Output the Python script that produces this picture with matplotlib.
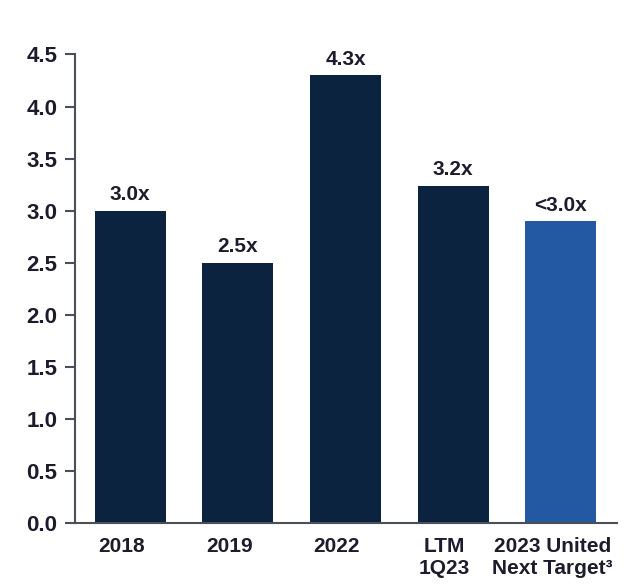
import matplotlib
matplotlib.use("Agg")
import matplotlib.pyplot as plt
import numpy as np

categories = ["2018", "2019", "2022", "LTM\n1Q23", "2023 United\nNext Target³"]
leverage = [3.0, 2.5, 4.3, 3.24, 2.9]
value_labels = ["3.0x", "2.5x", "4.3x", "3.2x", "<3.0x"]
bar_colors = ["#0c2340", "#0c2340", "#0c2340", "#0c2340", "#2358a2"]
yticks = [0.0, 0.5, 1.0, 1.5, 2.0, 2.5, 3.0, 3.5, 4.0, 4.5]

plt.rcParams["font.family"] = ["Liberation Sans", "DejaVu Sans"]
plt.rcParams["font.weight"] = "bold"

fig = plt.figure(figsize=(6.32, 5.86), dpi=100)
ax = fig.add_axes([0.119, 0.108, 0.857, 0.799])

x = np.arange(len(categories))
bars = ax.bar(x, leverage, width=0.66, color=bar_colors)

for b, lab in zip(bars, value_labels):
    ax.text(b.get_x() + b.get_width() / 2, b.get_height() + 0.06, lab,
            ha="center", va="bottom", fontsize=15, fontweight="bold", color="#1c1c2c")

ax.set_xlim(-0.51, 4.52)
ax.set_ylim(0, 4.5)
ax.set_yticks(yticks)
ax.set_yticklabels([f"{t:.1f}" for t in yticks])
# category labels sit a little left of the bar centres
ax.set_xticks(x - 0.08)
ax.set_xticklabels(categories, linespacing=1.25)

for side in ["top", "right"]:
    ax.spines[side].set_visible(False)
for side in ["left", "bottom"]:
    ax.spines[side].set_color("#4a4f5c")
    ax.spines[side].set_linewidth(1.5)

ax.tick_params(axis="y", length=7, width=1.5, color="#4a4f5c",
               labelsize=16, labelcolor="#1c1c2c", pad=6)
ax.tick_params(axis="x", length=0, labelsize=15, labelcolor="#1c1c2c", pad=10)

fig.savefig("out.png", dpi=100)
